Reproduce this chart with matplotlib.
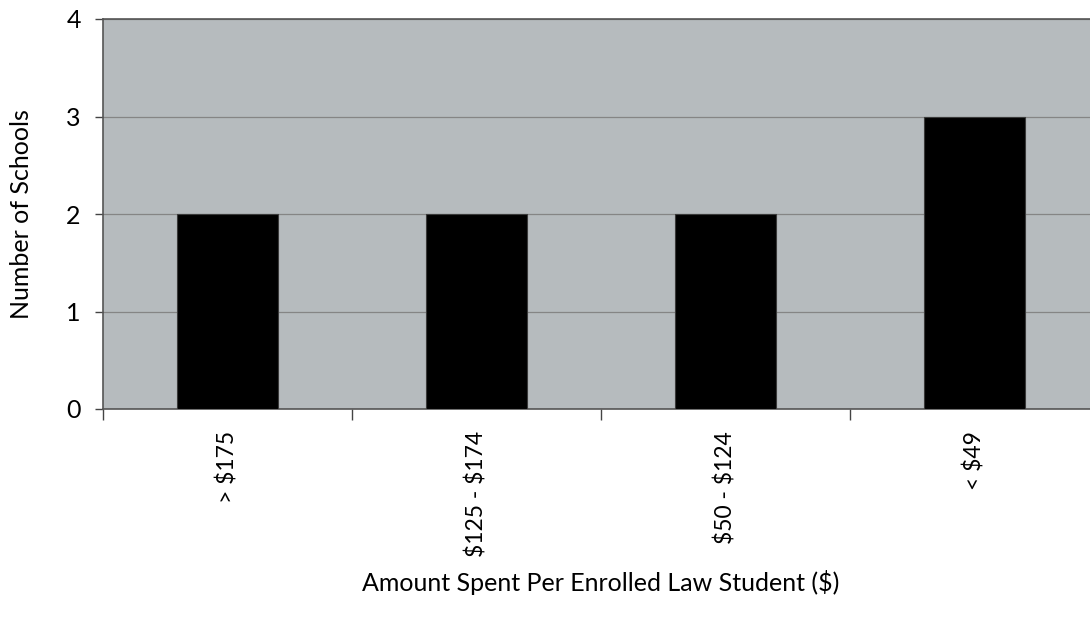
import matplotlib.pyplot as plt

categories = ["> $175", "$125 - $174", "$50 - $124", "< $49"]
schools = [2, 2, 2, 3]
y_ticks = [0, 1, 2, 3, 4]

plt.rcParams['font.family'] = ['Lato', 'DejaVu Sans']

fig = plt.figure(figsize=(10.9, 6.26), dpi=100)
# plot area runs off the right edge of the canvas
ax = fig.add_axes([103 / 1090, 1 - 409 / 626, 996 / 1090, 390 / 626])
ax.set_facecolor("#b6bbbe")

x = range(len(categories))
ax.bar(x, schools, width=0.405, color="black", edgecolor="#3a3a3a",
       linewidth=0.8, zorder=3)

ax.set_xlim(-0.5, len(categories) - 0.5)
ax.set_ylim(0, 4)
ax.set_yticks(y_ticks)
ax.set_yticklabels([str(v) for v in y_ticks], fontsize=18)
ax.yaxis.grid(True, color="#858585", linewidth=0.9, zorder=1)

# category ticks sit between the bars
ax.set_xticks([i - 0.5 for i in x], minor=False)
ax.set_xticklabels([])
ax.set_xticks(list(x), minor=True)
ax.set_xticklabels([c.replace("$", r"\$") for c in categories], minor=True,
                   rotation=90, fontsize=16.5, va="top")
ax.tick_params(axis="x", which="minor", length=0, pad=16)
ax.tick_params(axis="x", which="major", length=8, width=1, color="#444444")
ax.tick_params(axis="y", length=6, width=1, color="#444444", pad=10)

for side in ["left", "bottom", "top"]:
    ax.spines[side].set_color("#555555")
    ax.spines[side].set_linewidth(1.2)
ax.spines["right"].set_visible(False)

ax.set_ylabel("Number of Schools", fontsize=18, labelpad=24)
ax.set_xlabel("Amount Spent Per Enrolled Law Student (\\$)", fontsize=18,
              labelpad=9)

fig.savefig("out.png", dpi=100)
